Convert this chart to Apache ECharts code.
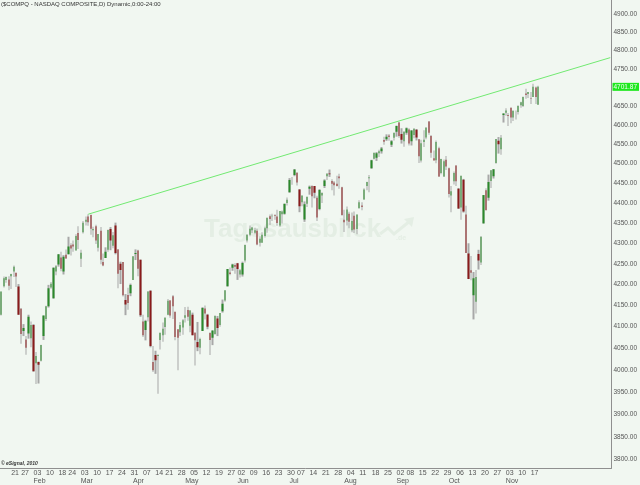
<!DOCTYPE html>
<html>
<head>
<meta charset="utf-8">
<script src="https://cdn.jsdelivr.net/npm/echarts@6/dist/echarts.min.js"></script>
<style>
  html, body { margin: 0; padding: 0; background: #f1f7f1; }
  #chart { width: 640px; height: 485px; }
</style>
</head>
<body>
<div id="chart"></div>
<script>
// NASDAQ Composite, daily 2014 (Jan 14 - Nov 20)
const dates = [
  '01-14','01-15','01-16','01-17','01-21','01-22','01-23','01-24','01-27','01-28','01-29','01-30','01-31',
  '02-03','02-04','02-05','02-06','02-07','02-10','02-11','02-12','02-13','02-14','02-18','02-19','02-20','02-21','02-24','02-25','02-26','02-27','02-28',
  '03-03','03-04','03-05','03-06','03-07','03-10','03-11','03-12','03-13','03-14','03-17','03-18','03-19','03-20','03-21','03-24','03-25','03-26','03-27','03-28','03-31',
  '04-01','04-02','04-03','04-04','04-07','04-08','04-09','04-10','04-11','04-14','04-15','04-16','04-17','04-21','04-22','04-23','04-24','04-25','04-28','04-29','04-30',
  '05-01','05-02','05-05','05-06','05-07','05-08','05-09','05-12','05-13','05-14','05-15','05-16','05-19','05-20','05-21','05-22','05-23','05-27','05-28','05-29','05-30',
  '06-02','06-03','06-04','06-05','06-06','06-09','06-10','06-11','06-12','06-13','06-16','06-17','06-18','06-19','06-20','06-23','06-24','06-25','06-26','06-27','06-30',
  '07-01','07-02','07-03','07-07','07-08','07-09','07-10','07-11','07-14','07-15','07-16','07-17','07-18','07-21','07-22','07-23','07-24','07-25','07-28','07-29','07-30','07-31',
  '08-01','08-04','08-05','08-06','08-07','08-08','08-11','08-12','08-13','08-14','08-15','08-18','08-19','08-20','08-21','08-22','08-25','08-26','08-27','08-28','08-29',
  '09-02','09-03','09-04','09-05','09-08','09-09','09-10','09-11','09-12','09-15','09-16','09-17','09-18','09-19','09-22','09-23','09-24','09-25','09-26','09-29','09-30',
  '10-01','10-02','10-03','10-06','10-07','10-08','10-09','10-10','10-13','10-14','10-15','10-16','10-17','10-20','10-21','10-22','10-23','10-24','10-27','10-28','10-29','10-30','10-31',
  '11-03','11-04','11-05','11-06','11-07','11-10','11-11','11-12','11-13','11-14','11-17','11-18','11-19','11-20'
];
const opens = [
  4128,4196,4211,4212,4220,4231,4228,4195,4142,4090,4070,4084,4073,
  4104,4015,4018,4021,4078,4118,4148,4193,4167,4231,4248,4265,4231,4272,4273,4295,4297,4282,4325,
  4262,4327,4353,4366,4370,4332,4342,4289,4331,4254,4264,4284,4335,4294,4344,4285,4250,4254,4163,4175,4179,
  4211,4274,4282,4260,4112,4092,4122,4185,4018,4034,4032,4069,4080,4099,4128,4162,4172,4135,4094,4087,4098,
  4121,4139,4102,4128,4086,4064,4051,4090,4143,4128,4085,4074,4083,4119,4104,4136,4162,4196,4229,4240,4247,
  4251,4224,4224,4258,4307,4321,4332,4326,4331,4301,4301,4318,4337,4367,4367,4370,4366,4344,4372,4373,4400,
  4427,4457,4471,4477,4434,4402,4359,4398,4436,4443,4443,4413,4385,4419,4443,4468,4475,4456,4452,4449,4467,4440,
  4358,4356,4373,4332,4368,4335,4387,4394,4409,4443,4463,4488,4513,4515,4527,4532,4561,4563,4573,4549,4567,
  4583,4607,4577,4558,4580,4589,4558,4574,4588,4563,4508,4556,4568,4610,4572,4514,4509,4540,4476,4467,4510,
  4488,4419,4455,4495,4436,4389,4459,4371,4275,4234,4174,4159,4274,4253,4349,4432,4413,4456,4468,4502,4559,4537,4627,
  4633,4627,4646,4620,4633,4635,4653,4651,4684,4683,4672,4675,4700,4654
];
const highs = [
  4183,4219,4219,4220,4226,4246,4228,4201,4144,4106,4078,4128,4112,
  4106,4041,4019,4058,4126,4149,4199,4206,4241,4247,4273,4279,4271,4285,4316,4300,4307,4322,4342,
  4284,4355,4366,4372,4371,4341,4346,4323,4340,4275,4290,4334,4340,4328,4351,4286,4255,4254,4177,4192,4202,
  4268,4285,4284,4260,4128,4116,4184,4186,4055,4044,4036,4086,4110,4122,4165,4163,4175,4135,4094,4111,4118,
  4146,4147,4139,4133,4087,4111,4074,4146,4150,4130,4087,4091,4127,4125,4132,4164,4186,4237,4241,4250,4251,
  4252,4237,4255,4297,4322,4344,4340,4338,4336,4317,4327,4341,4363,4371,4373,4372,4383,4380,4381,4398,4414,
  4463,4466,4486,4478,4435,4419,4404,4416,4444,4445,4443,4418,4435,4427,4460,4476,4485,4460,4456,4469,4474,4441,
  4383,4391,4378,4376,4379,4371,4407,4402,4437,4454,4471,4510,4528,4530,4536,4543,4570,4576,4577,4561,4580,
  4599,4609,4592,4584,4594,4592,4587,4592,4590,4564,4562,4587,4595,4611,4574,4534,4560,4544,4513,4511,4520,
  4490,4443,4480,4496,4438,4469,4461,4393,4300,4269,4230,4235,4284,4317,4420,4437,4472,4484,4486,4564,4569,4574,4631,
  4645,4632,4647,4639,4639,4653,4662,4676,4697,4688,4688,4710,4703,4705
];
const lows = [
  4126,4193,4204,4186,4189,4218,4194,4128,4060,4078,4035,4072,4052,
  3996,3968,3969,4019,4069,4113,4145,4190,4166,4222,4243,4232,4224,4262,4273,4270,4279,4282,4286,
  4242,4324,4344,4343,4321,4315,4298,4280,4249,4244,4264,4279,4283,4288,4273,4191,4201,4171,4127,4140,4172,
  4211,4259,4220,4123,4076,4068,4112,4052,3995,3991,3946,4047,4065,4081,4127,4121,4118,4068,3999,4078,4081,
  4110,4114,4087,4080,4010,4043,4036,4090,4117,4094,4034,4057,4081,4078,4100,4133,4159,4195,4222,4233,4226,
  4211,4217,4219,4253,4302,4317,4325,4322,4295,4292,4301,4314,4326,4345,4355,4358,4343,4341,4349,4371,4394,
  4426,4446,4468,4444,4377,4392,4353,4390,4421,4389,4412,4355,4382,4400,4438,4458,4466,4432,4419,4442,4436,4368,
  4328,4344,4337,4327,4325,4322,4386,4382,4408,4432,4427,4487,4511,4507,4517,4526,4549,4559,4559,4543,4560,
  4570,4567,4552,4544,4575,4547,4547,4566,4560,4502,4503,4543,4563,4575,4515,4508,4501,4466,4473,4466,4484,
  4414,4377,4447,4443,4385,4358,4376,4276,4213,4210,4117,4131,4236,4247,4349,4382,4406,4438,4462,4500,4526,4523,4607,
  4625,4598,4605,4611,4615,4628,4646,4648,4670,4672,4656,4675,4656,4654
];
const closes = [
  4183,4215,4218,4197,4225,4243,4219,4128,4083,4097,4051,4123,4104,
  3997,4032,4012,4057,4126,4148,4191,4202,4240,4244,4273,4238,4267,4263,4292,4287,4292,4318,4308,
  4277,4351,4358,4352,4336,4335,4307,4323,4260,4246,4279,4333,4307,4320,4276,4226,4235,4174,4152,4156,4199,
  4268,4276,4238,4127,4080,4113,4183,4055,3999,4022,4034,4086,4095,4121,4161,4126,4148,4076,4074,4104,4115,
  4127,4123,4138,4080,4068,4052,4071,4144,4131,4100,4069,4091,4125,4097,4132,4154,4186,4237,4225,4248,4243,
  4237,4234,4252,4296,4321,4336,4339,4332,4297,4311,4321,4337,4363,4360,4368,4368,4350,4380,4379,4398,4408,
  4458,4457,4485,4452,4392,4419,4397,4416,4441,4417,4426,4364,4433,4425,4457,4474,4473,4449,4445,4443,4463,4370,
  4352,4384,4353,4355,4334,4371,4402,4390,4434,4453,4465,4509,4528,4527,4532,4539,4557,4570,4569,4558,4580,
  4598,4572,4562,4583,4592,4552,4586,4591,4568,4519,4553,4562,4593,4580,4528,4508,4556,4467,4512,4506,4493,
  4423,4430,4476,4455,4386,4469,4379,4276,4213,4228,4215,4218,4258,4316,4420,4382,4453,4483,4486,4564,4550,4567,4631,
  4639,4624,4620,4638,4633,4651,4661,4675,4680,4688,4671,4702,4675,4702
];
const priceTicks = [3800,3850,3900,3950,4000,4050,4100,4150,4200,4250,4300,4350,4400,4450,4500,4550,4600,4650,4700,4750,4800,4850,4900];
const monthNames = ['Jan','Feb','Mar','Apr','May','Jun','Jul','Aug','Sep','Oct','Nov','Dec'];
const lastClose = 4701.87;
// trend line: from the March high to where it meets the price axis
const trendStart = { date: '03-06', value: 4372 };
const trendEndValue = 4781;
const emptySlots = 29; // free space right of the last candle

const chart = echarts.init(document.getElementById('chart'));

const slots = dates.concat(new Array(emptySlots).fill(''));
const dayNum = (s) => {
  const p = s.split('-');
  return Date.UTC(2014, +p[0] - 1, +p[1]) / 86400000;
};
// first trading day of every week / month gets a label
const weekStart = {};
const monthStart = {};
dates.forEach((d, i) => {
  if (i === 0) return;
  const prev = dates[i - 1];
  if (Math.floor((dayNum(d) + 3) / 7) !== Math.floor((dayNum(prev) + 3) / 7)) weekStart[i] = true;
  if (d.slice(0, 2) !== prev.slice(0, 2)) monthStart[i] = true;
});

const labelFont = '"Liberation Sans", Arial, sans-serif';

const option = {
  backgroundColor: '#f1f7f1',
  animation: false,
  grid: { left: 0, right: 26, top: 0, bottom: 17 },
  xAxis: [
    {
      type: 'category',
      data: slots,
      boundaryGap: true,
      axisLine: { show: true, lineStyle: { color: '#8f8f8f', width: 1 } },
      axisTick: { show: false },
      splitLine: { show: false },
      axisLabel: {
        interval: (i) => !!weekStart[i],
        formatter: (v) => v.slice(3),
        align: 'left',
        margin: 2,
        fontSize: 7,
        fontFamily: labelFont,
        color: '#555',
      },
    },
    {
      type: 'category',
      data: slots,
      position: 'bottom',
      boundaryGap: true,
      axisLine: { show: false },
      axisTick: { show: false },
      splitLine: { show: false },
      axisLabel: {
        interval: (i) => !!monthStart[i],
        formatter: (v) => monthNames[+v.slice(0, 2) - 1],
        align: 'left',
        margin: 10,
        fontSize: 7,
        fontFamily: labelFont,
        color: '#555',
      },
    },
  ],
  yAxis: {
    type: 'log',
    logBase: 10,
    position: 'right',
    min: 3782,
    max: 4941,
    axisLine: { show: true, lineStyle: { color: '#8f8f8f', width: 1 } },
    axisTick: { show: false },
    splitLine: { show: false },
    axisLabel: {
      customValues: priceTicks,
      formatter: (v) => Number(v).toFixed(2),
      align: 'left',
      margin: 2,
      fontSize: 6.5,
      fontFamily: labelFont,
      color: '#555',
    },
  },
  graphic: [
    {
      type: 'text', left: 1, top: 1, silent: true,
      style: { text: '($COMPQ - NASDAQ COMPOSITE,D) Dynamic,0:00-24:00', font: '6px ' + labelFont, fill: '#333' },
    },
    {
      type: 'text', left: 1, top: 461, silent: true,
      style: { text: '\u00a9 eSignal, 2010', font: 'italic bold 5px ' + labelFont, fill: '#333' },
    },
    // faint watermark
    {
      type: 'text', left: 204, top: 217, silent: true, z: -1,
      style: { text: 'Tagesausblick', font: 'bold 26px ' + labelFont, fill: '#e4eee4' },
    },
    {
      type: 'text', left: 396, top: 235, silent: true, z: -1,
      style: { text: '.de', font: 'bold 7px ' + labelFont, fill: '#e4eee4' },
    },
    {
      type: 'polyline', silent: true, z: -1,
      shape: { points: [[380, 234], [388, 228], [394, 234], [410, 221]] },
      style: { stroke: '#e4eee4', lineWidth: 3, fill: null },
    },
    {
      type: 'polygon', silent: true, z: -1,
      shape: { points: [[404, 219], [414, 217], [412, 227]] },
      style: { fill: '#e4eee4' },
    },
  ],
  series: [
    {
      // high-low range, grey
      type: 'candlestick',
      name: 'range',
      silent: true,
      barWidth: 1.8,
      data: dates.map((d, i) => [lows[i], highs[i], lows[i], highs[i]]),
      itemStyle: { color: '#a8a8a8', color0: '#a8a8a8', borderColor: '#a8a8a8', borderColor0: '#a8a8a8', borderWidth: 0 },
    },
    {
      // open-close body
      type: 'candlestick',
      name: '$COMPQ',
      silent: true,
      barWidth: 1.8,
      data: dates.map((d, i) => [opens[i], closes[i], lows[i], highs[i]]),
      itemStyle: { color: '#2b8a2b', color0: '#8a1b1b', borderColor: 'rgba(0,0,0,0)', borderColor0: 'rgba(0,0,0,0)', borderWidth: 0 },
      markLine: {
        silent: true,
        animation: false,
        symbol: ['none', 'none'],
        lineStyle: { color: '#72ea72', width: 1, type: 'solid' },
        label: { show: false },
        data: [
          [
            { coord: [dates.indexOf(trendStart.date), trendStart.value] },
            { coord: [slots.length - 1, trendEndValue] },
          ],
          {
            yAxis: lastClose,
            lineStyle: { color: 'rgba(0,0,0,0)', width: 0 },
            label: {
              show: true,
              position: 'end',
              distance: 1,
              formatter: lastClose.toFixed(2),
              backgroundColor: '#1ee81e',
              color: '#f4fff4',
              fontSize: 6.5,
              fontFamily: labelFont,
              padding: [1, 2, 0, 1],
            },
          },
        ],
      },
    },
  ],
};
chart.setOption(option);
</script>
</body>
</html>
